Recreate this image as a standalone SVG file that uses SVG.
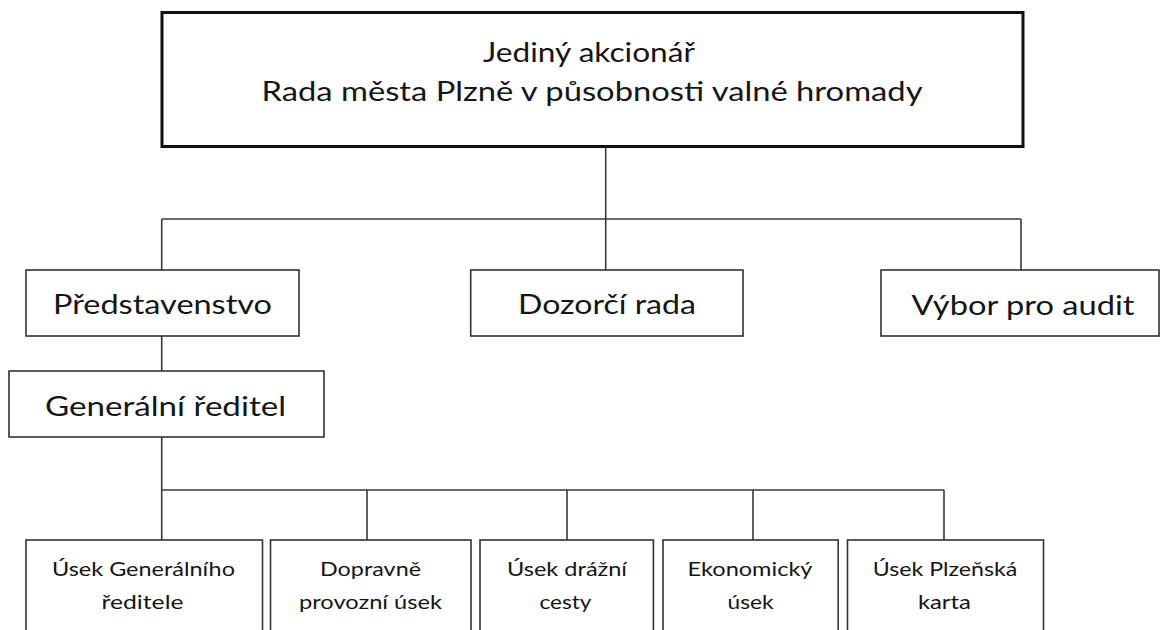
<svg xmlns="http://www.w3.org/2000/svg" width="1161" height="630" viewBox="0 0 1161 630">
  <style>
    .box { fill: #ffffff; stroke: #333333; stroke-width: 1.6; }
    .top { fill: #ffffff; stroke: #111111; stroke-width: 3; }
    .wire { fill: none; stroke: #3a3a3a; stroke-width: 1.6; }
    text { font-family: Lato, "Liberation Sans", sans-serif; fill: #151515; text-anchor: middle; }
    .big { font-size: 27px; }
    .small { font-size: 20px; }
  </style>
  <rect width="1161" height="630" fill="#ffffff"/>

  <g id="connectors">
    <!-- shareholder to the three boards -->
    <path class="wire" d="M605.7 148 V219"/>
    <path class="wire" d="M161.7 219 H1021"/>
    <path class="wire" d="M161.7 219 V270 M605.7 219 V270 M1021 219 V270"/>
    <!-- board to general director -->
    <path class="wire" d="M161.7 336 V371"/>
    <!-- general director to the departments -->
    <path class="wire" d="M161.7 437 V490"/>
    <path class="wire" d="M161.7 490 H944"/>
    <path class="wire" d="M161.7 490 V540 M367 490 V540 M567 490 V540 M753 490 V540 M944 490 V540"/>
  </g>

  <g id="akcionar">
    <rect class="top" x="162" y="12.5" width="861" height="134"/>
    <text class="big" x="589" y="62" textLength="212" lengthAdjust="spacingAndGlyphs">Jediný akcionář</text>
    <text class="big" x="592" y="101" textLength="661" lengthAdjust="spacingAndGlyphs">Rada města Plzně v působnosti valné hromady</text>
  </g>

  <g id="predstavenstvo">
    <rect class="box" x="26" y="270" width="273" height="66"/>
    <text class="big" x="162.5" y="314" textLength="219" lengthAdjust="spacingAndGlyphs">Představenstvo</text>
  </g>

  <g id="dozorci-rada">
    <rect class="box" x="470.7" y="270" width="272.3" height="66"/>
    <text class="big" x="607" y="314" textLength="178" lengthAdjust="spacingAndGlyphs">Dozorčí rada</text>
  </g>

  <g id="vybor-pro-audit">
    <rect class="box" x="881" y="270" width="278" height="66"/>
    <text class="big" x="1023" y="315" textLength="223" lengthAdjust="spacingAndGlyphs">Výbor pro audit</text>
  </g>

  <g id="generalni-reditel">
    <rect class="box" x="9" y="371" width="315" height="66"/>
    <text class="big" x="165.5" y="416" textLength="241" lengthAdjust="spacingAndGlyphs">Generální ředitel</text>
  </g>

  <g id="usek-gr">
    <rect class="box" x="26" y="540" width="236.5" height="110"/>
    <text class="small" x="143.5" y="576" textLength="183" lengthAdjust="spacingAndGlyphs">Úsek Generálního</text>
    <text class="small" x="142.5" y="609" textLength="82" lengthAdjust="spacingAndGlyphs">ředitele</text>
  </g>

  <g id="dopravne-provozni">
    <rect class="box" x="270.5" y="540" width="200.5" height="110"/>
    <text class="small" x="370.5" y="576" textLength="101" lengthAdjust="spacingAndGlyphs">Dopravně</text>
    <text class="small" x="370.5" y="609" textLength="143" lengthAdjust="spacingAndGlyphs">provozní úsek</text>
  </g>

  <g id="usek-drazni-cesty">
    <rect class="box" x="480" y="540" width="173.4" height="110"/>
    <text class="small" x="567" y="576" textLength="120" lengthAdjust="spacingAndGlyphs">Úsek drážní</text>
    <text class="small" x="565.5" y="609" textLength="52" lengthAdjust="spacingAndGlyphs">cesty</text>
  </g>

  <g id="ekonomicky">
    <rect class="box" x="663" y="540" width="175.2" height="110"/>
    <text class="small" x="750" y="576" textLength="125" lengthAdjust="spacingAndGlyphs">Ekonomický</text>
    <text class="small" x="750.5" y="609" textLength="46" lengthAdjust="spacingAndGlyphs">úsek</text>
  </g>

  <g id="plzenska-karta">
    <rect class="box" x="847.5" y="540" width="196" height="110"/>
    <text class="small" x="945" y="576" textLength="144.5" lengthAdjust="spacingAndGlyphs">Úsek Plzeňská</text>
    <text class="small" x="944.4" y="609" textLength="53" lengthAdjust="spacingAndGlyphs">karta</text>
  </g>
</svg>
